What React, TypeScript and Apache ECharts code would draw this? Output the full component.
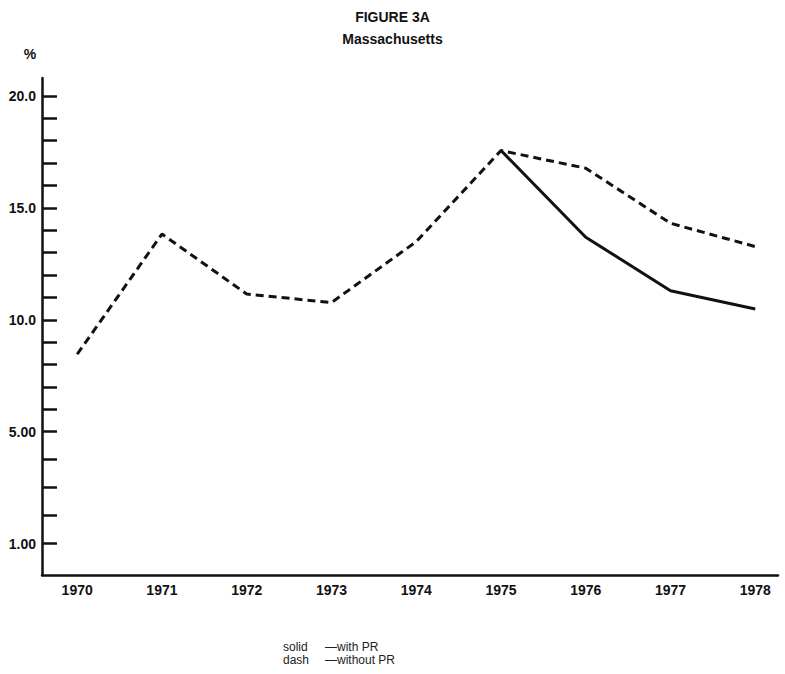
import React, { useEffect, useRef } from "react";
import * as echarts from "echarts";

const years = [1970, 1971, 1972, 1973, 1974, 1975, 1976, 1977, 1978];
const withoutPR = [8.46, 13.83, 11.15, 10.77, 13.49, 17.56, 16.77, 14.31, 13.27];
const withPRYears = [1975, 1976, 1977, 1978];
const withPR = [17.56, 13.69, 11.3, 10.48];

const yTickValues = [1, 2, 3, 4, 5, 6, 7, 8, 9, 10, 11, 12, 13, 14, 15, 16, 17, 18, 19, 20];
const yLabelValues = [1, 5, 10, 15, 20];
const yLabelTexts = ["1.00", "5.00", "10.0", "15.0", "20.0"];

// The original axis is compressed below 5: 1..5 spans the same height as 0..5 above.
const toPos = (v: number) => (v >= 5 ? v : 5 - (5 - v) * 1.25);

export default function App() {
  const ref = useRef<HTMLDivElement>(null);
  useEffect(() => {
    if (!ref.current) return;
    const chart = echarts.init(ref.current, null, { renderer: "svg" });
    const labelPos = yLabelValues.map(toPos);
    const font = "'Liberation Sans', Arial, Helvetica, sans-serif";
    chart.setOption({
      animation: false,
      backgroundColor: "#ffffff",
      textStyle: { fontFamily: font },
      title: [
        {
          text: "FIGURE 3A",
          left: "center",
          top: 5,
          textStyle: { fontSize: 14, fontWeight: "bold", color: "#111", fontFamily: font },
        },
        {
          text: "Massachusetts",
          left: "center",
          top: 27,
          textStyle: { fontSize: 14, fontWeight: "bold", color: "#111", fontFamily: font },
        },
      ],
      grid: { left: 42, right: 7, top: 78, bottom: 99, outerBoundsMode: "none" },
      xAxis: {
        type: "value",
        min: 1969.585,
        max: 1978.268,
        axisLine: { show: true, onZero: false, lineStyle: { color: "#111", width: 2.5 } },
        axisTick: { show: false },
        splitLine: { show: false },
        axisLabel: {
          customValues: years,
          formatter: (v: number) => String(Math.round(v)),
          fontSize: 14,
          fontWeight: "bold",
          color: "#111",
          margin: 8,
          fontFamily: font,
        },
      },
      yAxis: {
        type: "value",
        min: -1.4,
        max: 20.8,
        axisLine: { show: true, onZero: false, lineStyle: { color: "#111", width: 2.5 } },
        axisTick: {
          show: true,
          inside: true,
          length: 15,
          customValues: yTickValues.map(toPos),
          lineStyle: { color: "#111", width: 2.5 },
        },
        splitLine: { show: false },
        axisLabel: {
          customValues: labelPos,
          formatter: (v: number) => {
            let best = 0;
            labelPos.forEach((p, i) => {
              if (Math.abs(p - v) < Math.abs(labelPos[best] - v)) best = i;
            });
            return yLabelTexts[best];
          },
          fontSize: 14,
          fontWeight: "bold",
          color: "#111",
          margin: 6,
          fontFamily: font,
        },
      },
      series: [
        {
          name: "without PR",
          type: "line",
          symbol: "none",
          data: years.map((y, i) => [y, toPos(withoutPR[i])]),
          lineStyle: { color: "#111", width: 3, type: [8, 5] },
          z: 2,
        },
        {
          name: "with PR",
          type: "line",
          symbol: "none",
          data: withPRYears.map((y, i) => [y, toPos(withPR[i])]),
          lineStyle: { color: "#111", width: 3, type: "solid" },
          z: 3,
        },
      ],
      graphic: [
        {
          type: "text",
          x: 30,
          y: 54,
          style: {
            text: "%",
            fontSize: 14,
            fontWeight: "bold",
            fill: "#111",
            align: "center",
            verticalAlign: "middle",
            fontFamily: font,
          },
        },
        {
          type: "text",
          x: 283,
          y: 647,
          style: { text: "solid", fontSize: 12, fill: "#222", verticalAlign: "middle", fontFamily: font },
        },
        {
          type: "text",
          x: 325,
          y: 647,
          style: { text: "—with PR", fontSize: 12, fill: "#222", verticalAlign: "middle", fontFamily: font },
        },
        {
          type: "text",
          x: 283,
          y: 660,
          style: { text: "dash", fontSize: 12, fill: "#222", verticalAlign: "middle", fontFamily: font },
        },
        {
          type: "text",
          x: 325,
          y: 660,
          style: { text: "—without PR", fontSize: 12, fill: "#222", verticalAlign: "middle", fontFamily: font },
        },
      ],
    });
    return () => chart.dispose();
  }, []);
  return <div ref={ref} style={{ width: 785, height: 674, position: "absolute", left: 0, top: 0 }} />;
}
